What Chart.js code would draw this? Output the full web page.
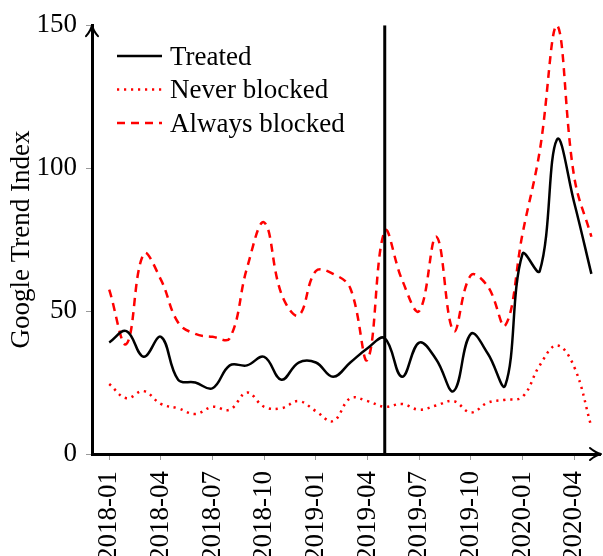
<!DOCTYPE html>
<html>
<head>
<meta charset="utf-8">
<title>Google Trend Index</title>
<script src="https://cdn.jsdelivr.net/npm/chart.js@4.4.1/dist/chart.umd.min.js"></script>
<style>
  html, body { margin: 0; padding: 0; background: #ffffff; overflow: hidden; }
  #wrap { width: 603px; height: 556px; }
</style>
</head>
<body>
<div id="wrap"><canvas id="chart" width="603" height="556"></canvas></div>
<script>
// Monthly observations, 2018-01 .. 2020-05
const months = [
  '2018-01','2018-02','2018-03','2018-04','2018-05','2018-06','2018-07','2018-08','2018-09','2018-10','2018-11','2018-12',
  '2019-01','2019-02','2019-03','2019-04','2019-05','2019-06','2019-07','2019-08','2019-09','2019-10','2019-11','2019-12',
  '2020-01','2020-02','2020-03','2020-04','2020-05'
];
const tickLabels = ['2018-01','2018-04','2018-07','2018-10','2019-01','2019-04','2019-07','2019-10','2020-01','2020-04'];
const yTicks = [0, 50, 100, 150];

const treated = [39, 43, 34, 41, 26, 25, 23, 31, 31, 34, 26, 32, 32, 27, 32, 37, 40.5, 27, 39, 33, 22, 42, 35, 24, 70, 64, 110, 88, 63];
const neverBlocked = [24.5, 19.5, 22, 17.5, 16, 14, 16.5, 15.5, 21.5, 16.5, 16, 18.5, 15, 11.5, 19.5, 18.5, 16.5, 17.5, 15.5, 17, 18.5, 14.5, 18, 19, 20, 31, 38, 30.5, 9.5];
const alwaysBlocked = [57.5, 38.5, 70, 61, 46, 42, 41, 40.5, 65, 81, 56, 48.5, 64, 63, 58, 33, 78, 61, 50, 76, 43, 62.5, 58.5, 45, 77, 106, 150, 97, 76];

// Month the treatment starts
const eventMonth = '2019-05';

const FONT = "'Liberation Serif', 'Times New Roman', serif";
const FONT_SIZE = 27;

Chart.defaults.font.family = FONT;
Chart.defaults.font.size = FONT_SIZE;
Chart.defaults.color = '#000000';

const toPoints = (arr) => arr.map((v, i) => ({ x: i, y: v }));
const eventIndex = months.indexOf(eventMonth);

// Arrow heads at the ends of both axes
const axisArrows = {
  id: 'axisArrows',
  afterDraw(chart) {
    const { ctx, chartArea: a } = chart;
    ctx.save();
    ctx.strokeStyle = '#000';
    ctx.lineWidth = 2;
    ctx.lineCap = 'round';
    ctx.lineJoin = 'round';
    // y axis (pointing up)
    ctx.beginPath();
    ctx.moveTo(a.left - 6, a.top + 11);
    ctx.quadraticCurveTo(a.left - 1, a.top + 5, a.left, a.top);
    ctx.quadraticCurveTo(a.left + 1, a.top + 5, a.left + 6, a.top + 11);
    ctx.stroke();
    // x axis (pointing right)
    const xr = a.right + 1;
    ctx.beginPath();
    ctx.moveTo(xr - 11, a.bottom - 6);
    ctx.quadraticCurveTo(xr - 5, a.bottom - 1, xr, a.bottom);
    ctx.quadraticCurveTo(xr - 5, a.bottom + 1, xr - 11, a.bottom + 6);
    ctx.stroke();
    ctx.restore();
  }
};

// Legend drawn inside the plot with line samples
const lineLegend = {
  id: 'lineLegend',
  afterDraw(chart, args, opts) {
    const { ctx, chartArea: a } = chart;
    const items = chart.data.datasets.filter(d => d.label);
    ctx.save();
    items.forEach((d, k) => {
      const y = a.top + opts.top + k * opts.spacing;
      const x0 = a.left + opts.left;
      ctx.setLineDash(d.borderDash || []);
      ctx.strokeStyle = d.borderColor;
      ctx.lineWidth = d.borderWidth;
      ctx.lineCap = 'butt';
      ctx.beginPath();
      ctx.moveTo(x0, y);
      ctx.lineTo(x0 + opts.lineLength, y);
      ctx.stroke();
      ctx.setLineDash([]);
      ctx.fillStyle = '#000';
      ctx.font = FONT_SIZE + 'px ' + FONT;
      ctx.textBaseline = 'alphabetic';
      ctx.textAlign = 'left';
      ctx.fillText(d.label, x0 + opts.lineLength + opts.gap, y + 8.9);
    });
    ctx.restore();
  }
};

new Chart(document.getElementById('chart'), {
  type: 'line',
  data: {
    datasets: [
      {
        data: [{ x: eventIndex, y: 0 }, { x: eventIndex, y: 150 }],
        borderColor: '#000000',
        borderWidth: 3,
        pointRadius: 0,
        tension: 0,
        order: 0
      },
      {
        label: 'Treated',
        data: toPoints(treated),
        borderColor: '#000000',
        borderWidth: 2.5,
        pointRadius: 0,
        tension: 0.4,
        order: 1
      },
      {
        label: 'Never blocked',
        data: toPoints(neverBlocked),
        borderColor: '#ff0000',
        borderWidth: 2.5,
        borderDash: [2.2, 4.8],
        pointRadius: 0,
        tension: 0.4,
        order: 2
      },
      {
        label: 'Always blocked',
        data: toPoints(alwaysBlocked),
        borderColor: '#ff0000',
        borderWidth: 2.5,
        borderDash: [8, 6],
        pointRadius: 0,
        tension: 0.4,
        order: 3
      }
    ]
  },
  options: {
    responsive: false,
    animation: false,
    layout: { padding: { left: 0, top: 24, right: 3, bottom: 0 } },
    plugins: {
      legend: { display: false },
      tooltip: { enabled: false },
      lineLegend: { left: 25, top: 30.7, spacing: 33.5, lineLength: 45, gap: 8 }
    },
    scales: {
      x: {
        type: 'linear',
        min: -1,
        max: 28.5,
        afterBuildTicks(scale) {
          scale.ticks = tickLabels.map(l => ({ value: months.indexOf(l) }));
        },
        afterFit(scale) {
          scale.height = 102;
          scale.paddingLeft = 0;
          scale.paddingRight = 0;
        },
        ticks: {
          autoSkip: false,
          minRotation: 90,
          maxRotation: 90,
          padding: 11,
          color: '#000',
          font: { size: FONT_SIZE },
          callback: (v) => months[v]
        },
        grid: { drawOnChartArea: false, drawTicks: true, tickLength: 6, color: '#9a9a9a', lineWidth: 1 },
        border: { display: true, color: '#000000', width: 3 }
      },
      y: {
        min: 0,
        max: 150,
        afterBuildTicks(scale) {
          scale.ticks = yTicks.map(v => ({ value: v }));
        },
        afterFit(scale) { scale.width = 92; },
        ticks: { padding: 9, color: '#000', font: { size: FONT_SIZE } },
        grid: { drawOnChartArea: false, drawTicks: true, tickLength: 6, color: '#9a9a9a', lineWidth: 1 },
        border: { display: true, color: '#000000', width: 3 },
        title: { display: true, text: 'Google Trend Index', color: '#000', font: { size: FONT_SIZE }, padding: { top: 6 } }
      }
    }
  },
  plugins: [axisArrows, lineLegend]
});
</script>
</body>
</html>
